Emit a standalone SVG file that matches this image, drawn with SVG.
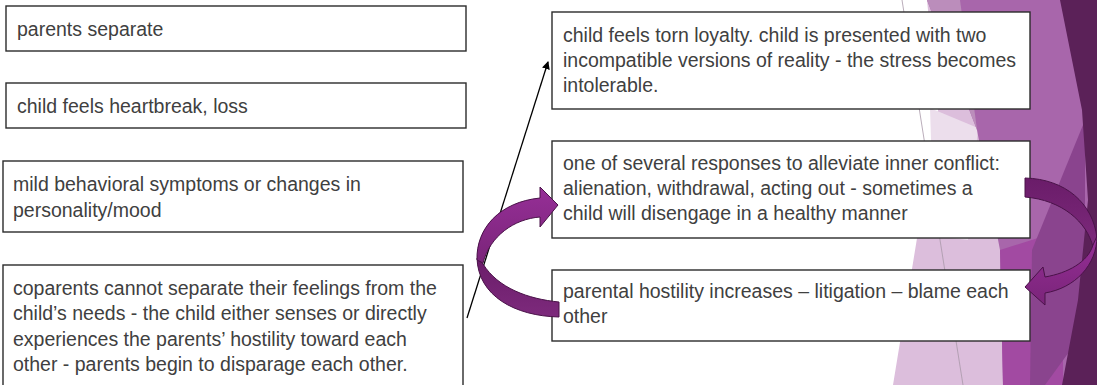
<svg xmlns="http://www.w3.org/2000/svg" width="1097" height="385" viewBox="0 0 1097 385">
<style>
.box{fill:#fff;stroke:#2b2b2b;stroke-width:1.4}
.t{font-family:"Liberation Sans",Arial,sans-serif;font-size:19.5px;fill:#404040}
.arrowA{fill:url(#gA);stroke:#4a1249;stroke-width:1}
.arrowB{fill:url(#gB);stroke:#4a1249;stroke-width:1}
</style>
<defs>
<linearGradient id="gA" x1="0" y1="0" x2="0" y2="1"><stop offset="0" stop-color="#962f97"/><stop offset="1" stop-color="#7a2479"/></linearGradient>
<linearGradient id="gB" x1="0" y1="0" x2="0" y2="1"><stop offset="0" stop-color="#6a1c69"/><stop offset="1" stop-color="#7d2a7c"/></linearGradient>
<marker id="ah" markerWidth="8" markerHeight="8" refX="7" refY="4" orient="auto" markerUnits="userSpaceOnUse"><path d="M0,0 L8,4 L0,8 Z" fill="#000"/></marker>
</defs>
<rect width="1097" height="385" fill="#fff"/>
<g id="background">
<polygon points="927,0 1097,0 1097,385 893,385 938,110" fill="#dcbedc"/>
<polygon points="930,108 978,128 968,240 934,236" fill="#ecdeec"/>
<polygon points="927,0 1097,0 1097,385 1003,385 1000,250 977,130" fill="#a866ab"/>
<polygon points="927,0 960,0 977,130" fill="#bb8dbb"/>
<polygon points="1000,250 1063,230 1063,385 1003,385" fill="#a24aa2"/>
<polygon points="1032,250 1085,120 1085,330 1045,385 1030,385" fill="#8a448e"/>
<polygon points="1060,0 1097,0 1097,385 1062,385 1078,300 1088,200 1082,110" fill="#5b2158"/>
<line x1="902" y1="0" x2="963" y2="385" stroke="#a898a8" stroke-width="0.8"/>
</g>
<g id="n1"><rect class="box" x="6" y="6" width="460" height="45"/><text class="t" x="17" y="36">parents separate</text></g>
<g id="n2"><rect class="box" x="6" y="83" width="460" height="45"/><text class="t" x="17" y="113">child feels heartbreak, loss</text></g>
<g id="n3"><rect class="box" x="3" y="161" width="460" height="71"/><text class="t" x="13" y="191">mild behavioral symptoms or changes in</text><text class="t" x="13" y="217">personality/mood</text></g>
<g id="n4"><rect class="box" x="3" y="265" width="460" height="130"/><text class="t" x="13" y="295">coparents cannot separate their feelings from the</text><text class="t" x="13" y="320">child’s needs - the child either senses or directly</text><text class="t" x="13" y="346">experiences the parents’ hostility toward each</text><text class="t" x="13" y="371">other - parents begin to disparage each other.</text></g>
<g id="n5"><rect class="box" x="552" y="12" width="478" height="97"/><text class="t" x="563" y="42">child feels torn loyalty. child is presented with two</text><text class="t" x="563" y="67">incompatible versions of reality - the stress becomes</text><text class="t" x="563" y="92">intolerable.</text></g>
<g id="n6"><rect class="box" x="552" y="141" width="478" height="97"/><text class="t" x="563" y="170">one of several responses to alleviate inner conflict:</text><text class="t" x="563" y="195">alienation, withdrawal, acting out - sometimes a</text><text class="t" x="563" y="220">child will disengage in a healthy manner</text></g>
<g id="n7"><rect class="box" x="552" y="270" width="478" height="71"/><text class="t" x="563" y="298">parental hostility increases – litigation – blame each</text><text class="t" x="563" y="323">other</text></g>
<g id="connectors">
<line x1="467" y1="318" x2="548" y2="62" stroke="#000" stroke-width="1.3" marker-end="url(#ah)"/>
<path class="arrowB" d="M559,302 C528,299 498,288 483,264 L477,258 C478,296 515,316 559,317 Z"/>
<path class="arrowA" d="M477,260 C476,228 500,202 540,198 L540,187 L558,205 L540,227 L540,217 C514,219 490,236 483,263 Z"/>
<path class="arrowB" d="M1025,178 C1065,179 1093,203 1097,238 L1093,247 C1087,222 1062,200 1025,197 Z"/>
<path class="arrowA" d="M1097,236 C1097,265 1075,288 1045,293 L1045,305 L1025,287 L1043,267 L1045,277 C1068,273 1088,262 1093,245 Z"/>
</g>
</svg>
